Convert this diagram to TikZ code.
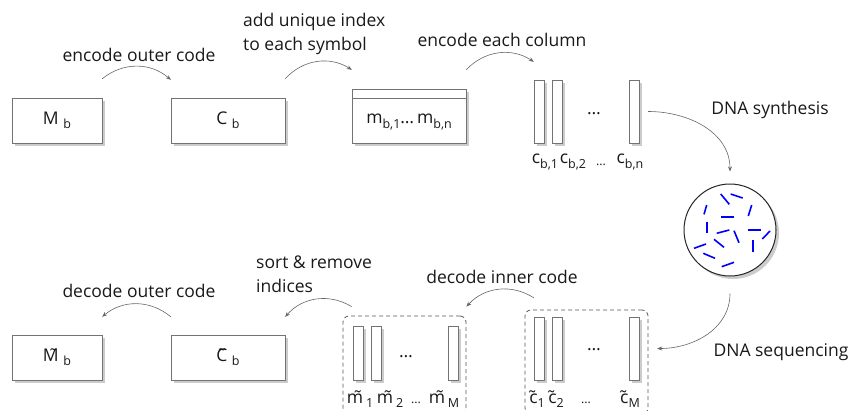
\documentclass[tikz,border=0pt]{standalone}
\usepackage{fontspec}
\setmainfont{Open Sans}
\usetikzlibrary{positioning,shadows,arrows.meta}

\newcommand{\lowidx}[1]{\raisebox{-0.45ex}{\fontsize{12.5}{12.5}\selectfont #1}}

\tikzset{
  blk/.style={draw=black!55, fill=white, inner sep=0pt, minimum height=45pt,
    drop shadow={shadow xshift=3pt, shadow yshift=-3pt, fill=black!25, opacity=.8}},
  colbar/.style={blk, minimum width=10pt, minimum height=63pt},
  grp/.style={draw=black!65, line width=0.8pt, dash pattern=on 4pt off 3pt, rounded corners=6pt, inner sep=0pt},
  txt/.style={inner sep=0pt},
  flow/.style={-{Stealth[length=5pt, width=4pt]}, draw=black!60, line width=0.6pt},
  strand/.style={draw=blue, line width=1.6pt}
}

\begin{document}
\begin{tikzpicture}[x=1pt, y=-1pt, font=\fontsize{17.5}{24}\selectfont, text=black!90]
  \useasboundingbox (0,0) rectangle (853,410);

  % encoding row
  \node[blk, minimum width=90pt] (Mb) at (57,120.5) {M \lowidx{b}};
  \node[blk, minimum width=114pt] (Cb) at (228,120.5) {C \lowidx{b}};
  \node[blk, minimum width=114pt, minimum height=54pt] (mb) at (409,116) {};
  \draw[black!55] ([yshift=-9pt]mb.north west) -- ([yshift=-9pt]mb.north east);
  \node[txt] (mbtxt) at ([yshift=-6pt]mb.center) {m\lowidx{b,1}…\,m\lowidx{b,n}};

  \node[colbar] (c1) at (539,111.5) {};
  \node[colbar, right=8pt of c1] (c2) {};
  \node[colbar] (c3) at (634,111.5) {};
  \node[txt] (cdots) at (594,114) {…};
  \node[txt] (cb1) at (545,162) {c\lowidx{b,1}};
  \node[txt] (cb2) at (573,162) {c\lowidx{b,2}};
  \node[txt, font=\fontsize{12.5}{12.5}\selectfont] (cbdots) at (601,165) {…};
  \node[txt] (cbn) at (630,162) {c\lowidx{b,n}};

  % pool of strands
  \node[circle, draw=black!85, fill=white, line width=1pt, minimum size=92pt,
    drop shadow={shadow xshift=3pt, shadow yshift=-3pt, fill=black!25, opacity=.8}] (pool) at (730,230) {};
  \foreach \xa/\ya/\xb/\yb in {720.7/194/729.3/204.3, 730.7/194/742.7/198, 706.7/205/704/214.3,
      720.7/216.7/734/216.7, 751.7/205/748.3/216, 706.7/221.7/706.7/233.3, 716.7/233.3/729.3/230,
      734/230.7/739/242.7, 748.3/230/760.7/230, 770/231/762.3/239, 714/239.3/724/247.3,
      694/248.3/706/244, 752.7/240/752.7/251.7, 703.3/253.3/715/258.3, 721.7/266.7/734/262.3}
    \draw[strand] (\xa,\ya) -- (\xb,\yb);

  % decoding row
  \node[blk, minimum width=90pt] (Mt) at (57,357.5) {\~{M} \lowidx{b}};
  \node[blk, minimum width=114pt] (Ct) at (228,357.5) {\~{C} \lowidx{b}};
  \node[grp, minimum width=123pt, minimum height=98pt] (mgrp) at (404.5,365) {};
  \node[grp, minimum width=123pt, minimum height=104pt] (cgrp) at (586.5,362) {};

  \node[blk, minimum width=10pt, minimum height=54pt] (mt1) at (358,353) {};
  \node[blk, minimum width=10pt, minimum height=54pt, right=8pt of mt1] (mt2) {};
  \node[blk, minimum width=10pt, minimum height=54pt] (mt3) at (453,353) {};
  \node[txt] (mtdots) at (406,357) {…};
  \node[txt] (mtl1) at (360,399) {\~{m}\,\lowidx{1}};
  \node[txt] (mtl2) at (390,399) {\~{m}\,\lowidx{2}};
  \node[txt, font=\fontsize{12.5}{12.5}\selectfont] (mtldots) at (416,403) {…};
  \node[txt] (mtlM) at (444,399) {\~{m}\,\lowidx{M}};

  \node[colbar] (ct1) at (539,348.5) {};
  \node[colbar, right=8pt of ct1] (ct2) {};
  \node[colbar] (ct3) at (634,348.5) {};
  \node[txt] (ctdots) at (594,350) {…};
  \node[txt] (ctl1) at (537,399) {\~{c}\lowidx{1}};
  \node[txt] (ctl2) at (556,399) {\~{c}\lowidx{2}};
  \node[txt, font=\fontsize{12.5}{12.5}\selectfont] (ctldots) at (586,403) {…};
  \node[txt] (ctlM) at (630,399) {\~{c}\lowidx{M}};

  % step labels
  \node[txt] (l1) at (139,55) {encode outer code};
  \node[txt, align=left, anchor=west] (l2) at (243,34) {add unique index\\to each symbol};
  \node[txt] (l3) at (502,40) {encode each column};
  \node[txt] (l4) at (770,110) {DNA synthesis};
  \node[txt] (l5) at (781,352) {DNA sequencing};
  \node[txt] (l6) at (502,277) {decode inner code};
  \node[txt, align=left, anchor=west] (l7) at (256,274.5) {sort \& remove\\indices};
  \node[txt] (l8) at (139,291) {decode outer code};

  % arrows
  \draw[flow] ([yshift=19pt]Mb.north east) to[bend left=40] ([yshift=18pt]Cb.north west);
  \draw[flow] ([yshift=19pt]Cb.north east) to[bend left=40] ([yshift=19pt]mb.north west);
  \draw[flow] ([yshift=19pt]mb.north east) to[bend left=40] ([yshift=18pt]c1.north west);
  \draw[flow] ([xshift=9pt]c3.east) to[out=0, in=90] ([yshift=12pt]pool.north);
  \draw[flow] ([yshift=-17pt]pool.south) to[out=-90, in=0] ([xshift=18pt]ct3.east);
  \draw[flow] ([yshift=19pt]ct1.north west) to[bend right=40] ([yshift=9pt]mgrp.north east);
  \draw[flow] ([xshift=9pt, yshift=9pt]mgrp.north west) to[bend right=40] ([yshift=18pt]Ct.north east);
  \draw[flow] ([yshift=18pt]Ct.north west) to[bend right=40] ([yshift=18pt]Mt.north east);
\end{tikzpicture}
\end{document}
